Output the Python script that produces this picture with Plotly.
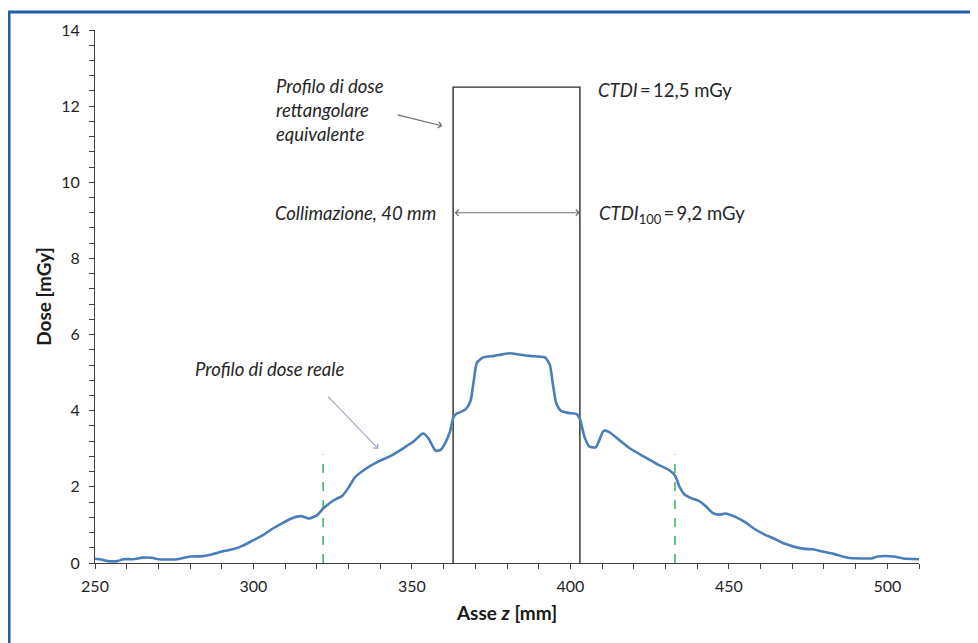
import plotly.graph_objects as go

# Real dose profile along z (mm) -> dose (mGy)
z_mm = [250, 252, 254, 257, 259, 262, 265, 268, 270, 276, 280, 284, 287, 291, 293.5, 296.5,
        300, 303, 306, 309, 312, 315, 317.5, 320, 322, 324, 326, 328, 330, 332, 335, 339,
        343, 347, 350.5, 353.5, 355, 357.5, 359, 360.5, 362, 363, 364, 365, 367, 368.5,
        369.5, 370.5, 372.5, 376, 378.5, 381, 383.5, 387, 390, 392, 393.5, 394.5, 395.5,
        397, 399.5, 402, 403, 404.5, 406, 408, 409, 410.5, 412, 415, 419, 423.5, 427.5,
        431, 433, 434.5, 436, 438.5, 440.5, 443, 445, 447, 449, 452, 455, 458, 461, 464.5,
        467.5, 470.5, 474, 476.5, 479.5, 483, 487.5, 491.5, 495, 497, 502, 505, 510]
dose_mGy = [0.11, 0.09, 0.05, 0.05, 0.10, 0.10, 0.14, 0.14, 0.10, 0.10, 0.17, 0.18, 0.23, 0.32,
            0.36, 0.45, 0.60, 0.73, 0.90, 1.04, 1.17, 1.23, 1.17, 1.25, 1.43, 1.57, 1.68, 1.76,
            1.98, 2.25, 2.45, 2.65, 2.80, 3.00, 3.19, 3.40, 3.30, 2.95, 2.97, 3.15, 3.45, 3.80,
            3.92, 3.95, 4.04, 4.26, 4.78, 5.26, 5.40, 5.44, 5.48, 5.51, 5.48, 5.44, 5.42, 5.40,
            5.21, 4.69, 4.21, 4.00, 3.94, 3.91, 3.78, 3.30, 3.06, 3.04, 3.20, 3.47, 3.45, 3.26,
            3.00, 2.78, 2.59, 2.45, 2.30, 1.99, 1.80, 1.69, 1.63, 1.47, 1.31, 1.27, 1.30, 1.21,
            1.08, 0.90, 0.76, 0.63, 0.51, 0.43, 0.37, 0.36, 0.30, 0.24, 0.14, 0.12, 0.12, 0.17,
            0.17, 0.12, 0.10]
assert len(z_mm) == len(dose_mGy)

# Equivalent rectangular profile
collimation_edges = [363, 403]   # mm (40 mm collimation)
ctdi = 12.5                      # mGy
ctdi100 = 9.2                    # mGy
# integration limits (green dashed markers)
integration_limits = [322, 433]
marker_height = 2.85

x_ticks = [250, 300, 350, 400, 450, 500]
y_ticks = [0, 2, 4, 6, 8, 10, 12, 14]

FONT = "Lato"
TS = "\u2009"  # thin space
fig = go.Figure()

fig.add_trace(go.Scatter(
    x=[collimation_edges[0], collimation_edges[0], collimation_edges[1], collimation_edges[1]],
    y=[0, ctdi, ctdi, 0], mode="lines",
    line=dict(color="#2b2b2b", width=1.4), hoverinfo="skip", showlegend=False))

for zl in integration_limits:
    fig.add_trace(go.Scatter(x=[zl, zl], y=[0, marker_height], mode="lines",
                             line=dict(color="#3dbb6e", width=1.6, dash="dash"),
                             hoverinfo="skip", showlegend=False))

fig.add_trace(go.Scatter(x=z_mm, y=dose_mGy, mode="lines",
                         line=dict(color="#4a7ebb", width=2.6, shape="spline", smoothing=0.6),
                         showlegend=False))

ann_font = dict(family=FONT, size=18.5, color="#262626")
annotations = [
    dict(x=306.5, y=11.9, xref="x", yref="y", showarrow=False, xanchor="left", yanchor="middle",
         align="left", text="<i>Profilo di dose<br>rettangolare<br>equivalente</i>", font=ann_font),
    dict(x=359.6, y=11.48, ax=345.0, ay=11.78, xref="x", yref="y", axref="x", ayref="y",
         text="", showarrow=True, arrowhead=4, arrowsize=1.1, arrowwidth=1.1, arrowcolor="#6f6f6f"),
    dict(x=408.0, y=12.42, xref="x", yref="y", showarrow=False, xanchor="left", yanchor="middle",
         text=f"<i>CTDI</i>{TS}={TS}12,5 mGy", font=ann_font),
    dict(x=358.3, y=9.2, xref="x", yref="y", showarrow=False, xanchor="right", yanchor="middle",
         text="<i>Collimazione, 40 mm</i>", font=ann_font),
    dict(x=collimation_edges[1], y=ctdi100, ax=collimation_edges[0], ay=ctdi100,
         xref="x", yref="y", axref="x", ayref="y", text="", showarrow=True,
         arrowhead=4, startarrowhead=4, arrowside="end+start", arrowsize=1.1, startarrowsize=1.1,
         arrowwidth=1.1, arrowcolor="#6f6f6f"),
    dict(x=408.5, y=9.15, xref="x", yref="y", showarrow=False, xanchor="left", yanchor="middle",
         text=f"<i>CTDI</i><sub>100</sub>{TS}={TS}9,2 mGy", font=ann_font),
    dict(x=280.9, y=5.1, xref="x", yref="y", showarrow=False, xanchor="left", yanchor="middle",
         text="<i>Profilo di dose reale</i>", font=ann_font),
    dict(x=339.4, y=3.0, ax=323.1, ay=4.41, xref="x", yref="y", axref="x", ayref="y",
         text="", showarrow=True, arrowhead=4, arrowsize=1.1, arrowwidth=1.1, arrowcolor="#9aa9bf"),
]

# Layout (page has an 8px body margin, so figure pixels = screen pixels - 8)
W, H = 978, 643
ml, mt = 87, 19
pw, ph = 824, 536
mr, mb = W - ml - pw, H - mt - ph
OFF = 8
def sx(px): return (px - OFF - ml) / pw
def sy(py): return (H - mb - (py - OFF)) / ph

shapes = [
    dict(type="line", xref="paper", yref="paper", x0=sx(8), x1=sx(1000),
         y0=sy(9), y1=sy(9), line=dict(color="#1f5fa8", width=3)),
    dict(type="line", xref="paper", yref="paper", x0=sx(9), x1=sx(9),
         y0=sy(8), y1=sy(680), line=dict(color="#1f5fa8", width=3)),
]

axis_common = dict(showgrid=False, zeroline=False, showline=True, linecolor="#404040", linewidth=1,
                   ticks="outside", ticklen=5, tickcolor="#404040", tickwidth=1,
                   tickfont=dict(family=FONT, size=16, color="#1f1f1f"))

fig.update_layout(
    width=W, height=H, margin=dict(l=ml, r=mr, t=mt, b=mb),
    paper_bgcolor="white", plot_bgcolor="white",
    xaxis=dict(range=[250, 510], tickvals=x_ticks, ticklabelstandoff=4,
               minor=dict(dtick=10, tick0=250, ticks="outside", ticklen=5, tickcolor="#404040"),
               title=dict(text="<b>Asse <i>z</i> [mm]</b>", font=dict(family=FONT, size=19, color="#1a1a1a"),
                          standoff=12),
               **axis_common),
    yaxis=dict(range=[0, 14], tickvals=y_ticks, ticklabelstandoff=6,
               minor=dict(dtick=0.4, tick0=0, ticks="outside", ticklen=5, tickcolor="#404040"),
               title=dict(text="<b>Dose [mGy]</b>", font=dict(family=FONT, size=19, color="#1a1a1a"),
                          standoff=4),
               **axis_common),
    annotations=annotations, shapes=shapes,
)

fig.write_html("out.html")
